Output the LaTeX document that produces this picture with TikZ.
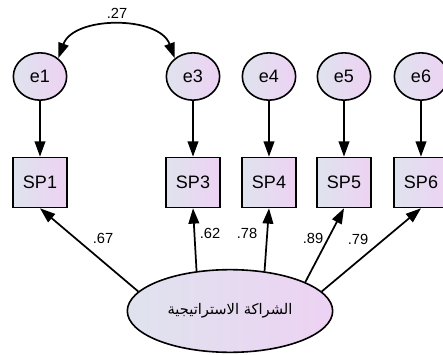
\documentclass[tikz,border=0pt]{standalone}
\usepackage{fontspec}
\setmainfont{Liberation Sans}
\newfontfamily\arabicfont[Script=Arabic]{DejaVu Sans}
\TeXXeTstate=1
\usepackage{tikz}
\usetikzlibrary{arrows.meta,shapes.geometric}
\definecolor{line}{HTML}{000000}
\definecolor{fillA}{HTML}{DFE3EE}
\definecolor{fillB}{HTML}{EDD2F3}
\tikzset{
  edge/.style={draw=line, line width=1.3pt},
  arr/.style={edge, -{Triangle[length=11.5pt,width=8pt]}},
  dbl/.style={edge, {Triangle[length=11.5pt,width=8pt]}-{Triangle[length=11.5pt,width=8pt]}},
  err/.style={ellipse, draw=line, line width=1.2pt, left color=fillA, right color=fillB,
    minimum width=40pt, minimum height=35.5pt, inner sep=0pt, font=\fontsize{13.5}{15}\selectfont},
  obs/.style={rectangle, draw=line, line width=1.2pt, left color=fillA, right color=fillB,
    minimum width=40.5pt, minimum height=37.5pt, inner sep=0pt, font=\fontsize{13.5}{15}\selectfont},
  lat/.style={ellipse, draw=line, line width=1.2pt, left color=fillA, right color=fillB,
    minimum width=154pt, minimum height=62pt, inner sep=0pt},
  lab/.style={font=\fontsize{11}{12}\selectfont, inner sep=1pt},
}

\begin{document}
\begin{tikzpicture}[x=0.75pt, y=0.75pt]
\useasboundingbox (0,0) rectangle (443,354);

% error terms and indicators
\foreach \n/\x in {1/40,3/193,4/269,5/344,6/421}{
  \node[err] (e\n) at (\x,277.5) {e\n};
  \node[obs] (SP\n) at (\x,171.5) {SP\n};
  \draw[arr] (e\n) -- (SP\n);
}

% latent factor
\node[lat] (lat) at (230,43) {\fontsize{11}{12}\arabicfont\beginR الشراكة الاستراتيجية\endR};

% loadings
\draw[arr] (lat.168) -- (SP1.south);
\draw[arr] (lat.130) -- (SP3.south);
\draw[arr] (lat.49) -- (SP4.south);
\draw[arr] (lat.21) -- (SP5.south);
\draw[arr] (lat.12) -- (SP6.south);

\node[lab] at (103,116) {.67};
\node[lab] at (210,121) {.62};
\node[lab] at (247,121) {.78};
\node[lab] at (313,116) {.89};
\node[lab] at (358,115) {.79};

% covariance
\draw[dbl] (e1.45) to[bend left=70] (e3.135);
\node[lab] at (117,341) {.27};
\end{tikzpicture}
\end{document}
